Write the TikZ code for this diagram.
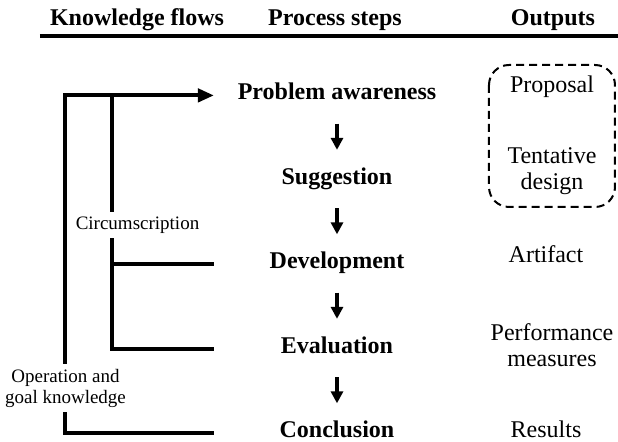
\documentclass[tikz,border=0pt]{standalone}
\usepackage{fontspec}
\setmainfont{Liberation Serif}
\usetikzlibrary{arrows.meta,calc}
\newcommand\StepFont{\fontsize{12}{14}\selectfont\bfseries}
\newcommand\OutFont{\fontsize{12}{13}\selectfont}
\newcommand\FlowFont{\fontsize{9.5}{10.5}\selectfont}

\begin{document}
\begin{tikzpicture}[x=0.5pt,y=-0.5pt,
    head/.style={font=\StepFont,anchor=base,inner sep=0pt},
    procstep/.style={font=\StepFont,anchor=base,inner sep=0pt},
    output/.style={font=\OutFont,anchor=base,align=center,inner sep=0pt},
    flowlabel/.style={font=\FlowFont,align=center,fill=white,inner sep=2.5pt},
    flow/.style={line width=2pt},
    steparrow/.style={line width=1.75pt,-{Triangle[length=6pt,width=6pt]}},
    outbox/.style={line width=1pt,dash pattern=on 4pt off 2.5pt,rounded corners=10pt}]
    \useasboundingbox (0,0) rectangle (618,442);
    % headings
    \node[head] (hflows) at (137,26) {Knowledge flows};
    \node[head] (hsteps) at (335,26) {Process steps};
    \node[head] (houts) at (553,26) {Outputs};
    \draw[line width=2pt] (40,36) -- (618,36);
    % process steps
    \node[procstep] (aware) at (337,100) {Problem awareness};
    \node[procstep] (suggest) at (337,184.5) {Suggestion};
    \node[procstep] (develop) at (337,269) {Development};
    \node[procstep] (evaluate) at (337,353.5) {Evaluation};
    \node[procstep] (conclude) at (337,438) {Conclusion};
    \foreach \a/\b in {aware/suggest,suggest/develop,develop/evaluate,evaluate/conclude}
        \draw[steparrow] ($(\a.base)!0.28!(\b.base)$) -- ($(\a.base)!0.59!(\b.base)$);
    % outputs
    \node[output] (proposal) at (552,93) {Proposal};
    \node[output] (tentative) at (552,190) {Tentative\\design};
    \node[output] (artifact) at (546,263) {Artifact};
    \node[output] (perf) at (552,367) {Performance\\measures};
    \node[output] (results) at (546,438) {Results};
    \draw[outbox] (489,65) rectangle (615,207);
    % knowledge flows
    \coordinate (outer) at (65,0);
    \coordinate (inner) at (112,0);
    \coordinate (edge) at (214,0);
    \draw[flow,-{Triangle[length=8pt,width=6.5pt]}] (edge |- conclude.mid) -| (outer |- aware.mid) -- (edge |- aware.mid);
    \draw[flow] (edge |- develop.mid) -- (inner |- develop.mid);
    \draw[flow] (edge |- evaluate.mid) -| (inner |- aware.mid);
    \node[flowlabel] (circum) at (137.5,225) {Circumscription};
    \node[flowlabel] (opgoal) at (65.5,388) {Operation and\\goal knowledge};
\end{tikzpicture}
\end{document}
